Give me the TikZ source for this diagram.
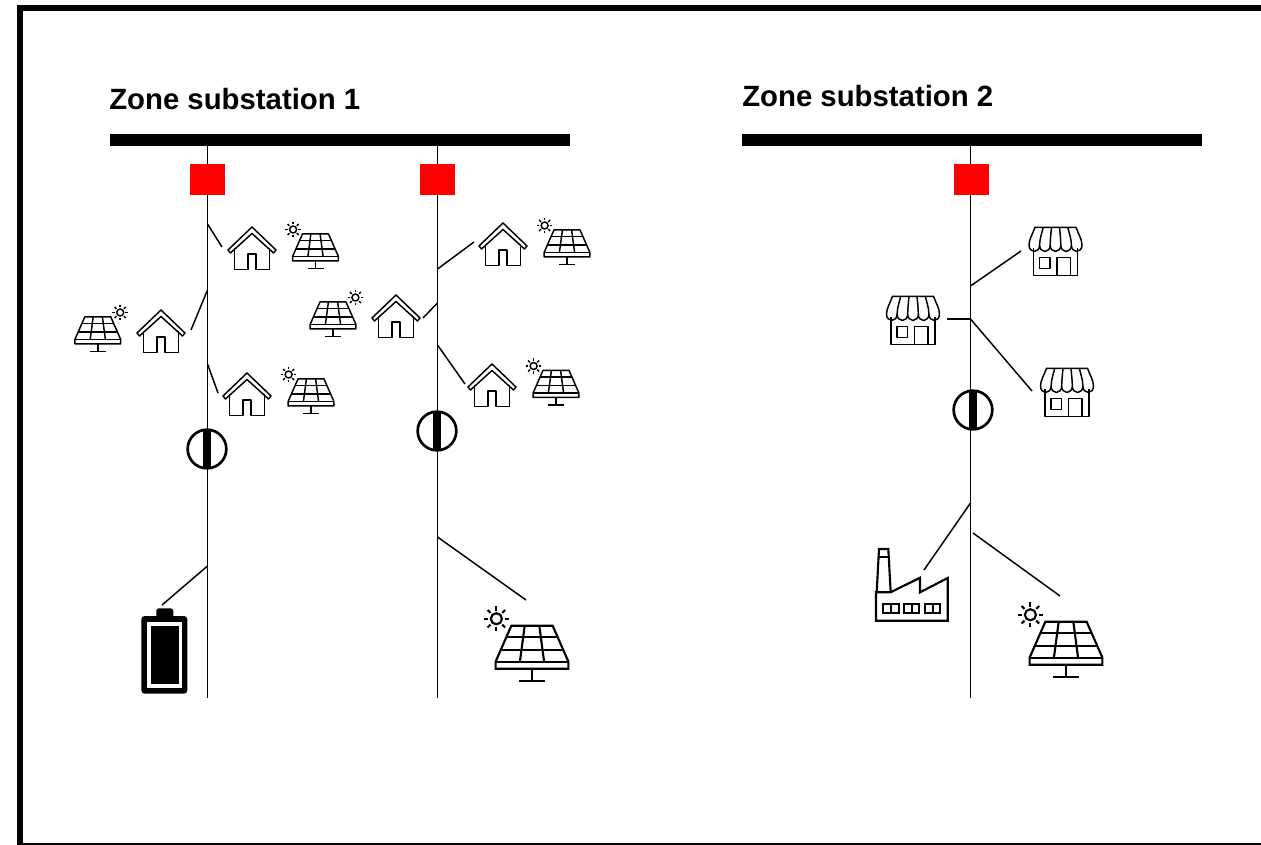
\documentclass[tikz,border=0pt]{standalone}
\usepackage{fontspec}
\setmainfont{Liberation Sans}
\usetikzlibrary{positioning,calc}

\tikzset{
	busbar/.style={fill=black,minimum height=9pt,minimum width=345pt,inner sep=0pt},
	breaker/.style={fill=red,minimum height=23.25pt,minimum width=26.25pt,inner sep=0pt},
	tieswitch/.style={circle,draw=black,line width=2pt,fill=white,minimum size=29pt,inner sep=0pt,
		path picture={\fill[black] ($(path picture bounding box.center)+(-3.7,-25)$) rectangle ($(path picture bounding box.center)+(3.7,25)$);}},
	title/.style={anchor=base west,inner sep=0pt,font=\fontsize{22}{26}\selectfont\bfseries},
	feeder/.style={line width=1.1pt},
	branch/.style={line width=1.1pt},
	icon/.style={line width=1.1pt,line join=round},
	bigicon/.style={line width=1.6pt,line join=miter},
	pics/sunny/.style={code={
		\draw (0,0) circle (3.5);
		\foreach \a in {0,45,...,315}
			\draw (\a:5.2) -- (\a:7.8);
	}},
	pics/solar/.style={code={
		\draw (-13,-22.6) -- (13,-22.6) -- (22.9,0) -- (22.9,4.4) -- (-22.9,4.4) -- (-22.9,0) -- cycle;
		\draw (-22.9,0) -- (22.9,0);
		\draw (-16,-15.8) -- (16,-15.8);
		\draw (-19.6,-7.5) -- (19.6,-7.5);
		\draw (-4.6,-22.6) -- (-7.6,0);
		\draw (4.6,-22.6) -- (7.6,0);
		\draw (0,4.4) -- (0,12);
		\draw (-8,12) -- (8,12);
		\pic[transform shape] at (#1*22.4,-27) {sunny};
	}},
	pics/house/.style={code={
		\draw (0,0) -- (24,23) -- (21.5,26) -- (0,6.5) -- (-21.5,26) -- (-24,23) -- cycle;
		\draw (-17.5,21) -- (-17.5,42.5) -- (-4,42.5) -- (-4,27) -- (4,27) -- (4,42.5) -- (17.5,42.5) -- (17.5,21);
	}},
	pics/shop/.style={code={
		\draw (-20.5,0) -- (20.5,0) .. controls (23,7) and (26.5,12) .. (26.5,18)
			arc[start angle=0,end angle=180,x radius=5.3,y radius=6.2]
			arc[start angle=0,end angle=180,x radius=5.3,y radius=6.2]
			arc[start angle=0,end angle=180,x radius=5.3,y radius=6.2]
			arc[start angle=0,end angle=180,x radius=5.3,y radius=6.2]
			arc[start angle=0,end angle=180,x radius=5.3,y radius=6.2]
			.. controls (-26.5,12) and (-23,7) .. cycle;
		\draw (-12.3,0) .. controls (-14,7) and (-15.9,12) .. (-15.9,18);
		\draw (-4,0) .. controls (-4.6,7) and (-5.3,12) .. (-5.3,18);
		\draw (4,0) .. controls (4.6,7) and (5.3,12) .. (5.3,18);
		\draw (12.3,0) .. controls (14,7) and (15.9,12) .. (15.9,18);
		\draw (-22,21) -- (-22,48) -- (22,48) -- (22,21);
		\draw (-16,30) rectangle (-5.5,41);
		\draw (1.5,48) -- (1.5,30) -- (15,30) -- (15,48);
	}},
	pics/factory/.style={code={
		\draw (876,592.3) -- (876,620.7) -- (947.7,620.7) -- (947.7,578) -- (920,592.3) -- (920,577.7) -- (890.7,592.3) -- cycle;
		\draw (876.7,592.3) -- (879,549) -- (888.3,549) -- (890.7,592.3);
		\draw (878.5,556.7) -- (888.8,556.7);
		\draw (883.3,604) rectangle (898.7,612.7);
		\draw (891,604) -- (891,612.7);
		\draw (904,604) rectangle (919.3,612.7);
		\draw (911.7,604) -- (911.7,612.7);
		\draw (925,604) rectangle (940.3,612.7);
		\draw (932.7,604) -- (932.7,612.7);
	}},
	pics/battery/.style={code={
		\fill[black,rounded corners=2pt] (156.3,620) -- (156.3,608.3) -- (173.3,608.3) -- (173.3,620) -- cycle;
		\fill[black,rounded corners=2.5pt] (141.3,616) rectangle (187.3,693.7);
		\fill[white] (147.3,622.3) rectangle (182,688.3);
		\fill[black] (151,625.7) rectangle (179,684.3);
	}},
}

\begin{document}
\begin{tikzpicture}[x=0.75pt,y=-0.75pt]
	\useasboundingbox (0,0) rectangle (1261,845);
	
	\fill[black] (17,5) rectangle (1261,11);
	\fill[black] (17,5) rectangle (23,845);
	\fill[black] (17,843) rectangle (1261,845);
	
	\node[title] (t1) at (109,110) {Zone substation 1};
	\node[title] (t2) at (742,107) {Zone substation 2};
	
	\coordinate (top1) at (207.5,140);
	\coordinate (top2) at (437.5,140);
	\coordinate (top3) at (970.5,140);
	\coordinate (end1) at (207.5,698);
	\coordinate (end2) at (437.5,698);
	\coordinate (end3) at (970.5,698);
	
	\draw[feeder] (top1)--(end1);
	\draw[feeder] (top2)--(end2);
	\draw[feeder] (top3)--(end3);
	
	\node[busbar] (bus1) at (340,140) {};
	\node[busbar] (bus2) at (972,140) {};
	
	\node[breaker] (cb1) at (207.5,179.5) {};
	\node[breaker] (cb2) at (437.5,179.5) {};
	\node[breaker] (cb3) at (971.5,179.5) {};
	
	\node[tieswitch] (sw1) at (207,449) {};
	\node[tieswitch] (sw2) at (437,431) {};
	\node[tieswitch] (sw3) at (973,410) {};
	
	\coordinate (a1) at (207.5,224); \coordinate (a2) at (222,247);
	\coordinate (b1) at (207.5,290); \coordinate (b2) at (191,330);
	\coordinate (c1) at (207.5,364); \coordinate (c2) at (218,393);
	\coordinate (d1) at (207.5,566); \coordinate (d2) at (162,605);
	\draw[branch] (a1)--(a2);
	\draw[branch] (b1)--(b2);
	\draw[branch] (c1)--(c2);
	\draw[branch] (d1)--(d2);
	
	\coordinate (e1) at (437.5,269); \coordinate (e2) at (474,242);
	\coordinate (f1) at (437.5,303); \coordinate (f2) at (423,318);
	\coordinate (g1) at (437.5,345); \coordinate (g2) at (465,384);
	\coordinate (h1) at (437.5,537); \coordinate (h2) at (526,600);
	\draw[branch] (e1)--(e2);
	\draw[branch] (f1)--(f2);
	\draw[branch] (g1)--(g2);
	\draw[branch] (h1)--(h2);
	
	\coordinate (i1) at (970.5,286); \coordinate (i2) at (1021,251);
	\coordinate (j1) at (970.5,319); \coordinate (j2) at (947,319);
	\coordinate (k2) at (1032,391);
	\coordinate (l1) at (970.5,503); \coordinate (l2) at (924,570);
	\coordinate (m1) at (973,533); \coordinate (m2) at (1060,596);
	\draw[branch] (i1)--(i2);
	\draw[branch] (j1)--(j2);
	\draw[branch] (j1)--(k2);
	\draw[branch] (l1)--(l2);
	\draw[branch] (m1)--(m2);
	
	\pic[icon] at (252,227) {house};
	\pic[icon] at (161,310) {house};
	\pic[icon] at (247,373) {house};
	\pic[icon] at (503,223) {house};
	\pic[icon] at (396,295) {house};
	\pic[icon] at (492,364) {house};
	
	\pic[icon] at (315.5,256.5) {solar=-1};
	\pic[icon] at (97.8,339.5) {solar=1};
	\pic[icon] at (311,401.5) {solar=-1};
	\pic[icon] at (567,252.5) {solar=-1};
	\pic[icon] at (333,324.5) {solar=1};
	\pic[icon] at (556,393) {solar=-1};
	\pic[bigicon,scale=1.59] at (532,661.7) {solar=-1};
	\pic[bigicon,scale=1.59] at (1066,657.7) {solar=-1};
	
	\pic[icon] at (1055.5,227.3) {shop};
	\pic[icon] at (913,296.3) {shop};
	\pic[icon] at (1067,368.3) {shop};
	
	\pic[bigicon] at (0,0) {factory};
	\pic at (0,0) {battery};
\end{tikzpicture}
\end{document}
